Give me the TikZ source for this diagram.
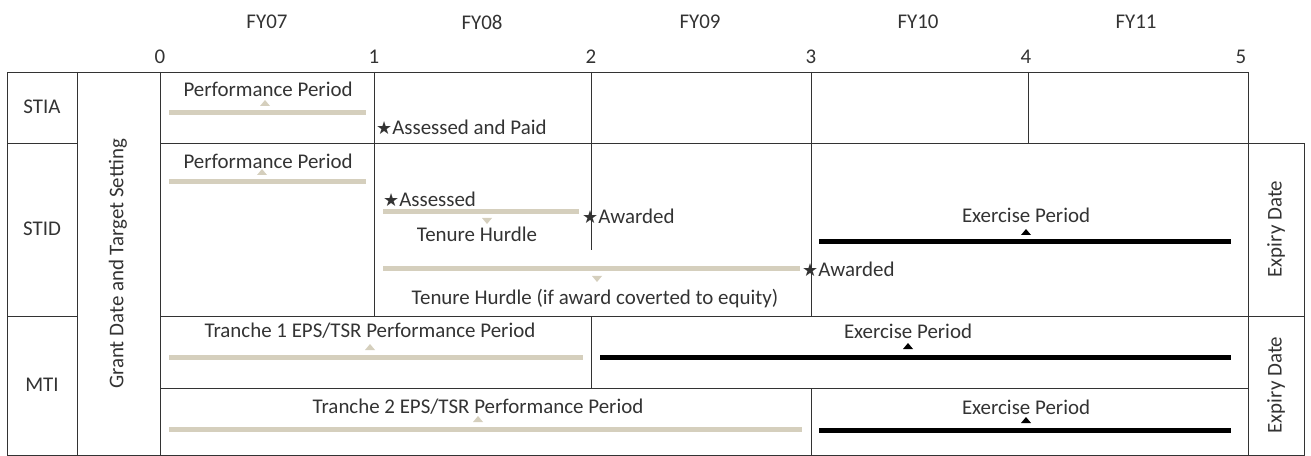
\documentclass[tikz,border=0pt]{standalone}
\usepackage{fontspec}
\setmainfont{Carlito}
\newfontfamily\symfont{DejaVu Sans}
\definecolor{hurdleTan}{HTML}{D5CFBD}
\definecolor{gridGray}{HTML}{333333}
\newcommand{\bstar}{{\symfont\fontsize{18}{18}\selectfont ★}}

\begin{document}
\begin{tikzpicture}[x=1bp,y=-1bp,
  grid/.style={draw=gridGray,line width=0.9bp},
  perfbar/.style={hurdleTan,line width=5bp},
  exbar/.style={black,line width=5bp},
  lbl/.style={text=gridGray,inner sep=0pt,font=\fontsize{21}{21}\selectfont}]

\useasboundingbox (0,0) rectangle (1311,456);

% year header
\foreach \fy/\x in {FY07/267,FY08/482,FY09/700,FY10/918,FY11/1136}
  \node[lbl] (\fy) at (\x,22) {\fy};
\foreach \n/\x in {0/160,1/374,2/591,3/811,4/1026,5/1241}
  \node[lbl] (tick\n) at (\x,57) {\n};

% frame and grid
\draw[grid] (7,72) -- (1248,72) -- (1248,143) -- (1304,143) -- (1304,455) -- (7,455) -- cycle;
\draw[grid] (7,143) -- (77,143);
\draw[grid] (160,143) -- (1248,143);
\draw[grid] (7,316) -- (77,316);
\draw[grid] (160,316) -- (1304,316);
\draw[grid] (160,388) -- (1248,388);
\draw[grid] (77,72) -- (77,455);
\draw[grid] (160,72) -- (160,455);
\draw[grid] (374,72) -- (374,316);
\draw[grid] (591,72) -- (591,250);
\draw[grid] (591,316) -- (591,388);
\draw[grid] (811,72) -- (811,316);
\draw[grid] (811,388) -- (811,455);
\draw[grid] (1028,72) -- (1028,143);
\draw[grid] (1248,143) -- (1248,455);

% row labels
\node[lbl] (stia) at (42,107) {STIA};
\node[lbl] (stid) at (42,229) {STID};
\node[lbl] (mti) at (42,385) {MTI};
\node[lbl,rotate=90] (grant) at (118,264) {Grant Date and Target Setting};
\node[lbl,rotate=90] (expiryA) at (1276,229) {Expiry Date};
\node[lbl,rotate=90] (expiryB) at (1276,385) {Expiry Date};

% STIA
\draw[perfbar] (169,113) -- (366,113);
\node[lbl] (stiaPerf) at (268,89) {Performance Period};
\node[lbl,anchor=west] (stiaPaid) at (376,127) {\bstar Assessed and Paid};

% STID
\draw[perfbar] (169,182) -- (366,182);
\node[lbl] (stidPerf) at (268,161) {Performance Period};
\draw[perfbar] (383,212) -- (579,212);
\node[lbl,anchor=west] (stidAssessed) at (383,199) {\bstar Assessed};
\node[lbl] (stidHurdle) at (477,234) {Tenure Hurdle};
\node[lbl,anchor=west] (stidAwardA) at (582,216) {\bstar Awarded};
\draw[perfbar] (383,269) -- (800,269);
\node[lbl,anchor=west] (stidAwardB) at (802,269) {\bstar Awarded};
\node[lbl] (stidEquity) at (595,299) {Tenure Hurdle (if award coverted to equity)};
\draw[exbar] (819,242) -- (1231,242);
\node[lbl] (stidEx) at (1026,215) {Exercise Period};

% MTI
\draw[perfbar] (169,357) -- (583,357);
\node[lbl] (trancheA) at (370,331) {Tranche 1 EPS/TSR Performance Period};
\draw[exbar] (600,357) -- (1231,357);
\node[lbl] (mtiExA) at (908,331) {Exercise Period};
\draw[perfbar] (169,429) -- (802,429);
\node[lbl] (trancheB) at (478,407) {Tranche 2 EPS/TSR Performance Period};
\draw[exbar] (819,430) -- (1231,430);
\node[lbl] (mtiExB) at (1026,407) {Exercise Period};

% markers
\foreach \x/\y in {265/106,262/175,370/350,478/422}
  \fill[hurdleTan] (\x-5,\y) -- (\x+5,\y) -- (\x,\y-6) -- cycle;
\foreach \x/\y in {487/218,597/276}
  \fill[hurdleTan] (\x-5,\y) -- (\x+5,\y) -- (\x,\y+6) -- cycle;
\foreach \x/\y in {1026/235,908/349,1026/423}
  \fill[black] (\x-5,\y) -- (\x+5,\y) -- (\x,\y-6) -- cycle;

\end{tikzpicture}
\end{document}
